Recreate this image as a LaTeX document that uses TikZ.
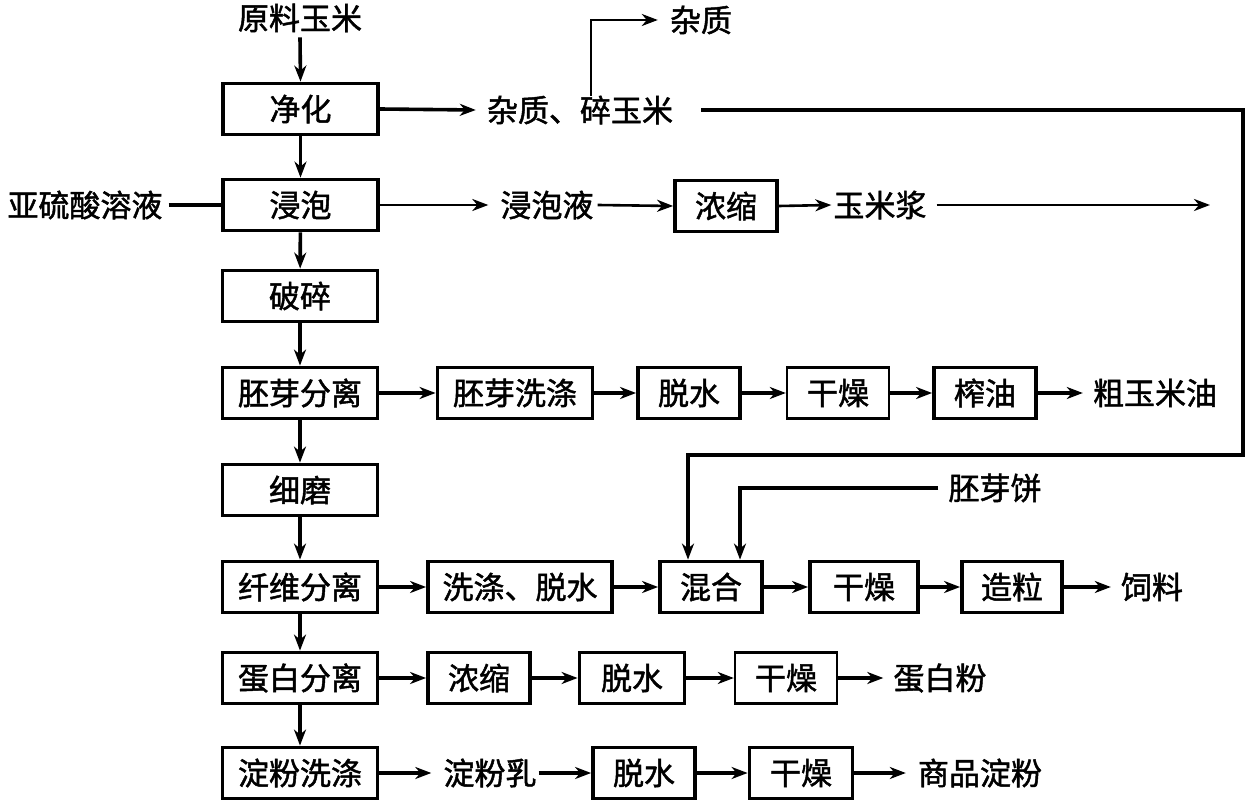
\documentclass[tikz,border=0pt]{standalone}
\usepackage{fontspec}
\newfontfamily\cjk[FakeBold=1.5]{Noto Sans CJK SC}
\usetikzlibrary{arrows.meta}
\begin{document}
\begin{tikzpicture}[x=1pt,y=-1pt,
  txt/.style={font=\cjk\fontsize{31}{33}\selectfont},
  box/.style={txt,draw,line width=3.8pt,minimum height=51pt,inner sep=0pt},
  thinbox/.style={box,line width=2.4pt},
  lbl/.style={txt,inner sep=0pt},
  ln/.style={line width=3.6pt},
  tln/.style={line width=2.6pt},
  arr/.style={ln,-{Stealth[length=16pt,width=12pt,inset=5pt]}},
  tarr/.style={tln,-{Stealth[length=16pt,width=12pt,inset=5pt]}}]
\useasboundingbox (0,0) rectangle (1248,802);
% main column
\node[lbl] (t0) at (300,18) {原料玉米};
\node[box,minimum width=155pt] (p1) at (300.5,109) {净化};
\node[box,minimum width=155pt] (p2) at (300.5,205) {浸泡};
\node[box,minimum width=155pt] (p3) at (300,296) {破碎};
\node[box,minimum width=155pt] (p4) at (300,393) {胚芽分离};
\node[box,minimum width=155pt] (p5) at (300,490) {细磨};
\node[box,minimum width=155pt] (p6) at (300,587) {纤维分离};
\node[box,minimum width=155pt] (p7) at (300,678) {蛋白分离};
\node[box,minimum width=155pt] (p8) at (300,773) {淀粉洗涤};
% row 1
\node[lbl] (zz) at (580,110) {杂质、碎玉米};
\node[lbl] (zz2) at (701,20) {杂质};
% row 2
\node[lbl] (ys) at (85,205) {亚硫酸溶液};
\node[lbl] (jpy) at (547,205) {浸泡液};
\node[box,minimum width=102pt] (ns1) at (726,206) {浓缩};
\node[lbl] (ymj) at (880,205) {玉米浆};
\coordinate (e1) at (1210,205);
% row 4
\node[box,minimum width=155pt] (pyx) at (515,393) {胚芽洗涤};
\node[box,minimum width=102pt] (ts1) at (689,393) {脱水};
\node[thinbox,minimum width=102pt] (gz1) at (838,393) {干燥};
\node[box,minimum width=102pt] (zy) at (985,393) {榨油};
\node[lbl] (cym) at (1155,393) {粗玉米油};
% row 6
\node[lbl] (pyb) at (995,488) {胚芽饼};
\node[box,minimum width=184pt] (xd) at (520,587) {洗涤、脱水};
\node[box,minimum width=102pt] (mix) at (711,587) {混合};
\node[box,minimum width=108pt] (gz2) at (864,587) {干燥};
\node[box,minimum width=100pt] (zl) at (1012,587) {造粒};
\node[lbl] (sl) at (1152,587) {饲料};
% row 7
\node[box,minimum width=102pt] (ns2) at (479,678) {浓缩};
\node[box,minimum width=105pt] (ts2) at (632,678) {脱水};
\node[thinbox,minimum width=102pt] (gz3) at (786,678) {干燥};
\node[lbl] (dbf) at (940,678) {蛋白粉};
% row 8
\node[lbl] (dfr) at (490,773) {淀粉乳};
\node[box,minimum width=102pt] (ts3) at (644,773) {脱水};
\node[box,minimum width=103pt] (gz4) at (801,773) {干燥};
\node[lbl] (spdf) at (980,773) {商品淀粉};
% vertical main flow
\draw[arr] ([yshift=-5pt]t0.south) -- (p1.north);
\draw[arr] (p1) -- (p2);
\draw[arr] (p2) -- (p3);
\draw[arr] (p3) -- (p4);
\draw[arr] (p4) -- (p5);
\draw[arr] (p5) -- (p6);
\draw[arr] (p6) -- (p7);
\draw[arr] (p7) -- (p8);
% row 1
\draw[arr] (p1.east) -- ([xshift=-11pt]zz.west);
\draw[tarr] ([xshift=11pt]zz.north) |- ([xshift=-12pt]zz2.west);
\draw[arr] ([xshift=28pt]zz.east) -| (1243,455) -| ([xshift=-23pt]mix.north);
% row 2
\draw[ln] ([xshift=6pt]ys.east) -- (p2.west);
\draw[tarr] (p2.east) -- ([xshift=-12pt]jpy.west);
\draw[tarr] ([xshift=4pt]jpy.east) -- (ns1.west);
\draw[tarr] (ns1.east) -- ([xshift=-2pt]ymj.west);
\draw[tarr] ([xshift=10pt]ymj.east) -- (e1);
% row 4
\draw[arr] (p4) -- (pyx);
\draw[arr] (pyx) -- (ts1);
\draw[arr] (ts1) -- (gz1);
\draw[arr] (gz1) -- (zy);
\draw[arr] (zy.east) -- ([xshift=-10pt]cym.west);
% row 6
\draw[arr] ([xshift=-10pt]pyb.west) -| ([xshift=29pt]mix.north);
\draw[arr] (p6) -- (xd);
\draw[arr] (xd) -- (mix);
\draw[arr] (mix) -- (gz2);
\draw[arr] (gz2) -- (zl);
\draw[arr] (zl.east) -- ([xshift=-10pt]sl.west);
% row 7
\draw[arr] (p7) -- (ns2);
\draw[arr] (ns2) -- (ts2);
\draw[arr] (ts2) -- (gz3);
\draw[arr] (gz3.east) -- ([xshift=-10pt]dbf.west);
% row 8
\draw[arr] (p8.east) -- ([xshift=-12pt]dfr.west);
\draw[arr] ([xshift=2pt]dfr.east) -- (ts3.west);
\draw[arr] (ts3) -- (gz4);
\draw[arr] (gz4.east) -- ([xshift=-12pt]spdf.west);
\end{tikzpicture}
\end{document}
